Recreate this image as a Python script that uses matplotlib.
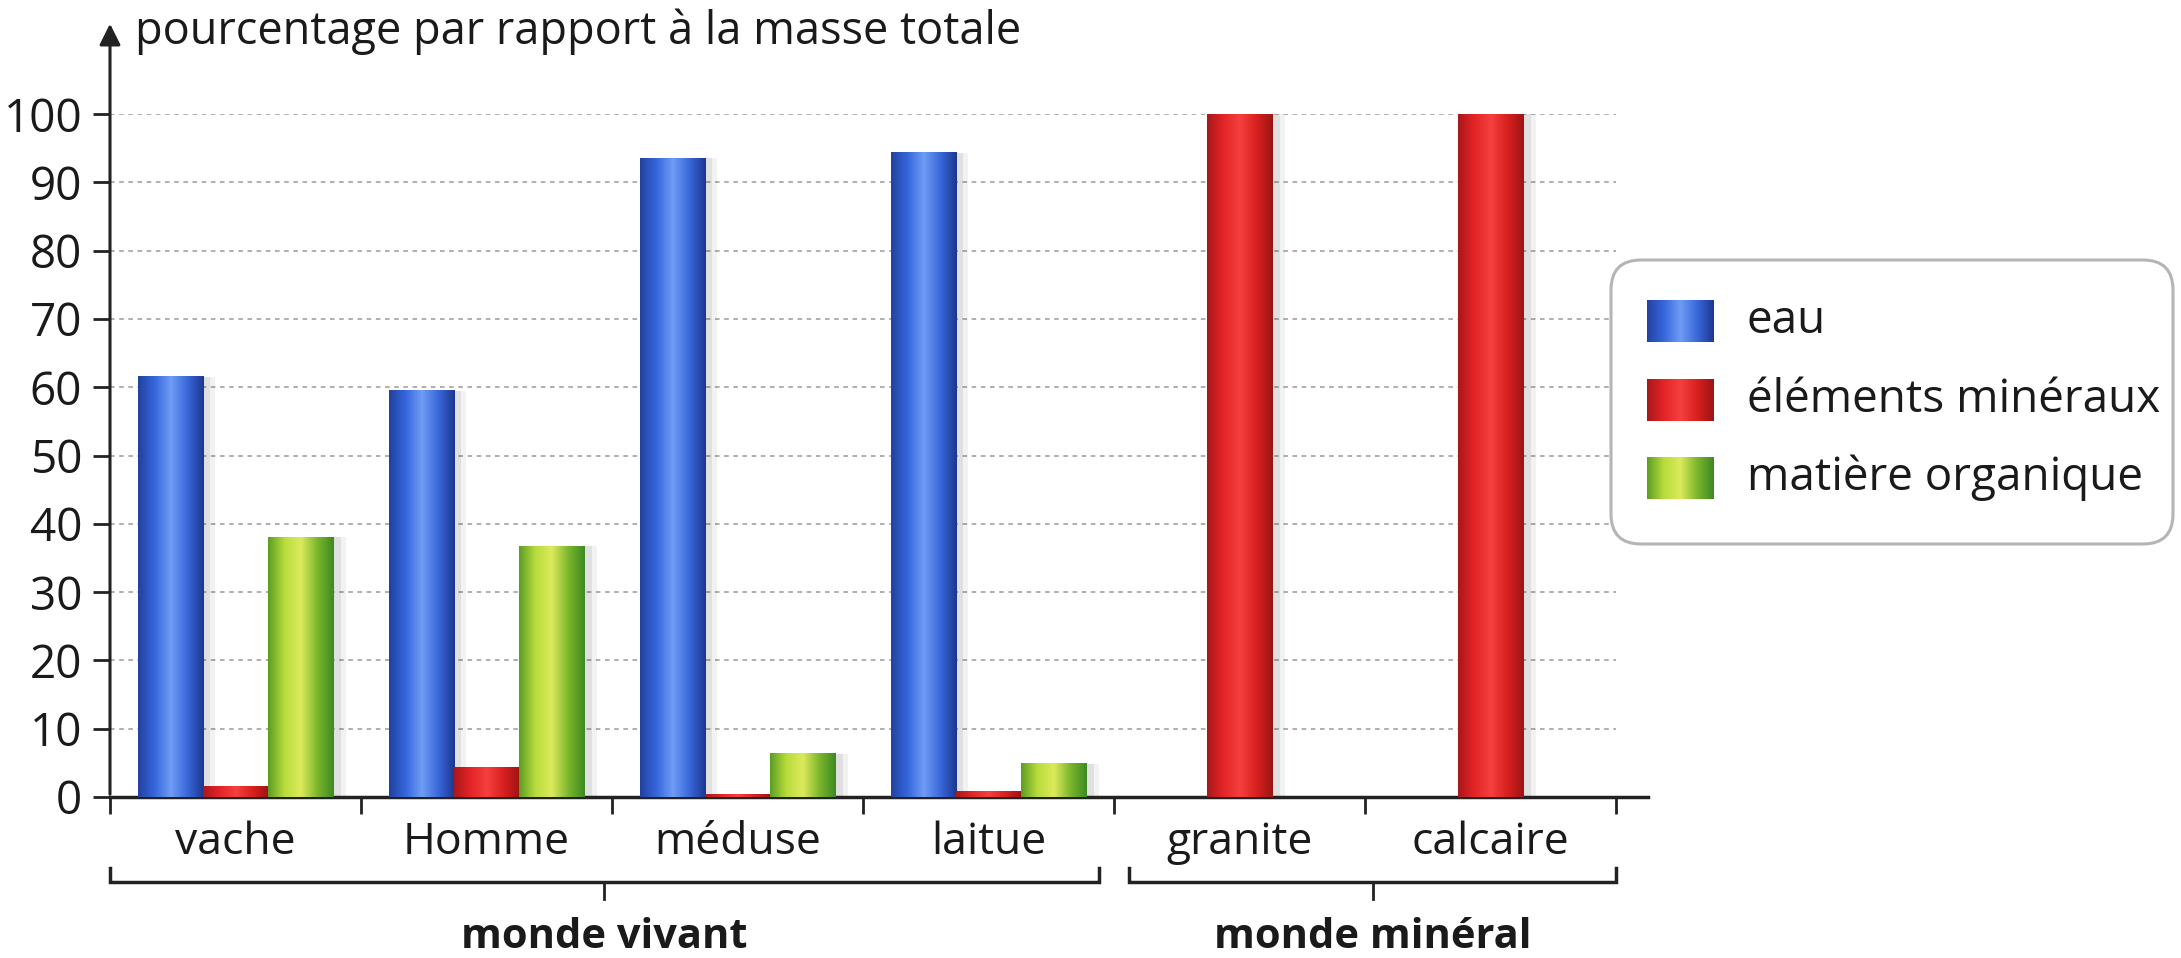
import numpy as np
import matplotlib
matplotlib.use("Agg")
import matplotlib.pyplot as plt
from matplotlib.colors import LinearSegmentedColormap
from matplotlib.patches import FancyBboxPatch, Rectangle

# data
categories = ["vache", "Homme", "méduse", "laitue", "granite", "calcaire"]
series_names = ["eau", "éléments minéraux", "matière organique"]
eau = [61.5, 59.5, 93.5, 94.3, np.nan, np.nan]
mineraux = [1.6, 4.3, 0.4, 0.8, 100, 100]
organique = [38.0, 36.7, 6.3, 4.9, np.nan, np.nan]
groups = [("monde vivant", -0.5, 3.44), ("monde minéral", 3.56, 5.5)]
y_ticks = list(range(0, 101, 10))
y_title = "pourcentage par rapport à la masse totale"

plt.rcParams["font.family"] = ["Open Sans", "DejaVu Sans"]

# cylinder-like shading for each series
cmaps = [
    LinearSegmentedColormap.from_list("blue", ["#23419f", "#3566dc", "#6f9cf4", "#3a68da", "#1c3690"]),
    LinearSegmentedColormap.from_list("red", ["#a8181a", "#e42428", "#f4403e", "#d8201f", "#9c1414"]),
    LinearSegmentedColormap.from_list("green", ["#5c9c24", "#b8dc3c", "#dcea5c", "#7cb62c", "#3c8a22"]),
]
grad = np.linspace(0, 1, 256).reshape(1, -1)

W, H = 2181, 958
fig = plt.figure(figsize=(W / 100, H / 100), dpi=100)
fig.patch.set_facecolor("white")

ax = fig.add_axes([110 / W, 1 - 797 / H, (1648 - 110) / W, (797 - 114) / H])
x = np.arange(len(categories))
bw = 0.26
xlim = (-0.5, -0.5 + (1648 - 110) / 251)
ylim = (0, 100)

ax.hlines(y_ticks[1:], -0.5, len(categories) - 0.5, colors="#9a9a9a",
          linestyles=(0, (3, 3)), lw=1.1, zorder=1)

for i, vals in enumerate([eau, mineraux, organique]):
    bars = ax.bar(x + (i - 1) * bw, vals, bw, facecolor="none", edgecolor="none", zorder=3)
    for p in bars:
        h = p.get_height()
        if not np.isfinite(h) or h <= 0:
            continue
        x0, w = p.get_x(), p.get_width()
        # soft shadow on the right
        for k, a in [(0.05, 0.05), (0.03, 0.07)]:
            ax.add_patch(Rectangle((x0 + k, 0), w, h, fc="black", ec="none", alpha=a, zorder=2))
        ax.imshow(grad, extent=(x0, x0 + w, 0, h), aspect="auto", cmap=cmaps[i], zorder=3)

ax.set_xlim(*xlim)
ax.set_ylim(*ylim)

for s in ["top", "right", "left"]:
    ax.spines[s].set_visible(False)
ax.spines["bottom"].set_linewidth(2.5)
ax.spines["bottom"].set_color("#222222")

# y axis with arrow
ax.annotate("", xy=(0, (797 - 21) / (797 - 114)), xytext=(0, 0), xycoords="axes fraction",
            arrowprops=dict(arrowstyle="-|>", lw=2.2, color="#222222", mutation_scale=32),
            annotation_clip=False)
ax.set_yticks(y_ticks)
ax.tick_params(axis="y", length=12, width=2, color="#222222", labelsize=33, pad=8,
               labelcolor="#1a1a1a")
ax.set_xticks(np.arange(-0.5, len(categories), 1.0))
ax.set_xticklabels([])
ax.tick_params(axis="x", length=12, width=2, color="#222222")

for xi, c in zip(x, categories):
    ax.text(xi, -6.7, c, ha="center", va="center", fontsize=32, color="#1a1a1a")

# group brackets
for name, a, b in groups:
    ax.plot([a, a, b, b], [-10.4, -12.4, -12.4, -10.4], color="#222222", lw=2.5,
            clip_on=False, solid_joinstyle="miter")
    m = (a + b) / 2
    ax.plot([m, m], [-12.4, -15.0], color="#222222", lw=2, clip_on=False)
    ax.text(m, -20.5, name, ha="center", va="center", fontsize=30, fontweight="bold",
            color="#1a1a1a")

fig.text(135 / W, 1 - 32 / H, y_title, ha="left", va="center", fontsize=32.5, color="#1a1a1a")

# legend box drawn in pixel coordinates
lax = fig.add_axes([1600 / W, 1 - 556 / H, (W - 1600) / W, (556 - 248) / H])
lax.axis("off")
lax.add_patch(FancyBboxPatch((1611, 260), 562, 284, boxstyle="round,pad=0,rounding_size=30",
                             fc="white", ec="#b5b5b5", lw=2.2, zorder=1))
for i, (name, yc) in enumerate(zip(series_names, [321, 400, 478])):
    lax.imshow(grad, extent=(1647, 1714, yc + 21, yc - 21), aspect="auto", cmap=cmaps[i],
               zorder=3)
    lax.text(1747, yc, name, ha="left", va="center", fontsize=33, color="#1a1a1a", zorder=4)
lax.set_xlim(1600, W)
lax.set_ylim(556, 248)

fig.savefig("out.png", dpi=100)
